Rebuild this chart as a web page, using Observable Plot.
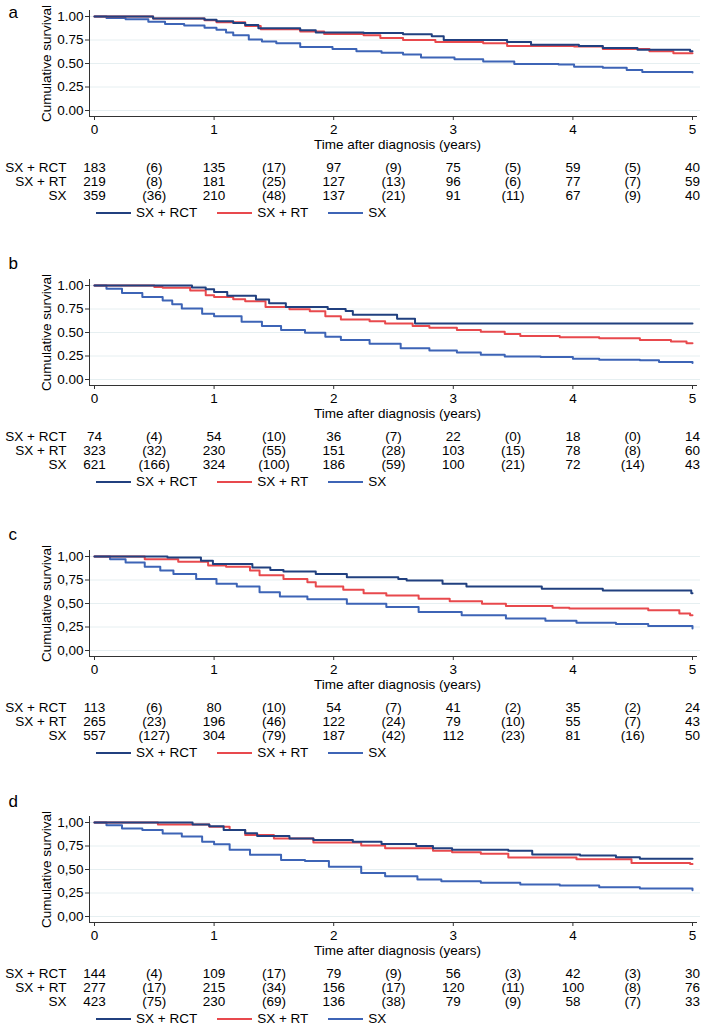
<!DOCTYPE html>
<html><head><meta charset="utf-8">
<script src="https://cdn.jsdelivr.net/npm/d3@7"></script>
<script src="https://cdn.jsdelivr.net/npm/@observablehq/plot@0.6"></script>
<style>
body{margin:0;background:#fff;}
#wrap{position:relative;width:708px;height:1036px;overflow:hidden;font-family:"Liberation Sans",Arial,sans-serif;color:#000;}
#wrap svg{position:absolute;left:0;}
.legend{position:absolute;left:96px;display:flex;align-items:center;height:18px;font-size:13.5px;line-height:18px;white-space:nowrap;}
.legend .sw{display:inline-block;width:35px;height:2px;margin-right:5px;}
.legend .item{display:flex;align-items:center;margin-right:20px;}
</style></head><body><div id="wrap"></div>
<script>
// ---- categories / labels ----
const groups = ["SX + RCT", "SX + RT", "SX"];
const colors = ["#21407f", "#e8494d", "#3d64b6"];
const panelLetters = ["a", "b", "c", "d"];
const yTickValues = [0, 0.25, 0.5, 0.75, 1];
const yTickLabelsDot = ["0.00", "0.25", "0.50", "0.75", "1.00"];
const yTickLabelsComma = ["0,00", "0,25", "0,50", "0,75", "1,00"];
const xTickValues = [0, 1, 2, 3, 4, 5];
const tableTimes = [0, 0.5, 1, 1.5, 2, 2.5, 3, 3.5, 4, 4.5, 5];
const yTitle = "Cumulative survival";
const xTitle = "Time after diagnosis (years)";

// ---- panel a curves ----
const aRCT_t = [0,0.49,0.92,1.02,1.16,1.26,1.37,1.72,1.85,2.25,2.58,2.82,2.92,3.45,3.65,4.05,4.25,4.54,4.98,5.0];
const aRCT_s = [1,0.98,0.965,0.95,0.93,0.91,0.875,0.855,0.83,0.825,0.81,0.79,0.75,0.73,0.70,0.685,0.665,0.645,0.63,0.63];
const aRT_t = [0,0.49,0.92,1.02,1.26,1.39,1.72,1.92,2.25,2.39,2.58,2.85,3.25,3.45,4.01,4.25,4.64,4.84,5.0];
const aRT_s = [1,0.98,0.96,0.94,0.90,0.865,0.84,0.815,0.80,0.77,0.75,0.73,0.715,0.685,0.68,0.655,0.63,0.61,0.61];
const aSX_t = [0,0.1,0.26,0.45,0.59,0.75,0.92,1.02,1.1,1.16,1.29,1.4,1.52,1.72,1.99,2.19,2.4,2.58,2.73,3.01,3.25,3.51,3.88,4.01,4.25,4.45,4.58,5.0];
const aSX_s = [1,0.985,0.97,0.945,0.92,0.905,0.88,0.86,0.83,0.80,0.755,0.735,0.715,0.675,0.655,0.63,0.615,0.595,0.565,0.545,0.52,0.495,0.49,0.465,0.455,0.43,0.41,0.405];
// ---- panel b curves ----
const bRCT_t = [0,0.815,0.93,1.0,1.11,1.35,1.46,1.6,1.95,2.1,2.16,2.53,2.68,5.0];
const bRCT_s = [1,0.98,0.96,0.93,0.89,0.85,0.81,0.77,0.75,0.73,0.69,0.645,0.595,0.595];
const bRT_t = [0,0.5,0.57,0.8,0.93,1.0,1.16,1.26,1.43,1.63,1.8,1.93,2.06,2.3,2.43,2.66,2.8,3.03,3.23,3.43,3.56,3.89,4.22,4.56,4.82,4.95,5.0];
const bRT_s = [1,0.985,0.975,0.947,0.895,0.877,0.853,0.832,0.772,0.747,0.726,0.674,0.639,0.621,0.596,0.568,0.551,0.526,0.509,0.484,0.463,0.449,0.439,0.421,0.404,0.386,0.386];
const bSX_t = [0,0.1,0.23,0.4,0.57,0.65,0.73,0.9,1.0,1.23,1.4,1.56,1.76,1.93,2.06,2.3,2.56,2.8,3.03,3.23,3.43,3.73,4.0,4.22,4.56,4.72,5.0];
const bSX_s = [1,0.965,0.92,0.877,0.84,0.80,0.755,0.70,0.674,0.614,0.568,0.526,0.498,0.456,0.421,0.379,0.333,0.309,0.288,0.263,0.246,0.239,0.221,0.211,0.204,0.186,0.175];
// ---- panel c curves ----
const cRCT_t = [0,0.61,0.89,0.99,1.32,1.47,1.58,1.85,2.11,2.54,2.61,2.91,3.11,3.74,4.25,4.99,5.0];
const cRCT_s = [1,0.99,0.955,0.92,0.884,0.856,0.84,0.814,0.779,0.76,0.744,0.709,0.68,0.656,0.639,0.61,0.61];
const cRT_t = [0,0.42,0.7,0.95,1.1,1.3,1.38,1.58,1.78,1.85,2.08,2.25,2.44,2.71,2.97,3.24,3.44,3.83,3.97,4.63,4.89,4.98,5.0];
const cRT_s = [1,0.97,0.944,0.905,0.89,0.85,0.80,0.76,0.726,0.68,0.646,0.61,0.586,0.55,0.523,0.498,0.474,0.456,0.446,0.428,0.393,0.375,0.375];
const cSX_t = [0,0.13,0.26,0.42,0.55,0.66,0.85,1.02,1.19,1.38,1.55,1.78,2.11,2.44,2.71,3.07,3.44,3.77,4.03,4.36,4.63,5.0];
const cSX_s = [1,0.97,0.937,0.89,0.85,0.814,0.76,0.709,0.68,0.62,0.575,0.544,0.498,0.463,0.41,0.375,0.34,0.316,0.295,0.281,0.26,0.235];
// ---- panel d curves ----
const dRCT_t = [0,0.82,0.96,1.08,1.26,1.36,1.63,1.83,2.16,2.4,2.69,2.83,2.99,3.46,3.66,4.06,4.36,4.56,5.0];
const dRCT_s = [1,0.98,0.96,0.92,0.885,0.856,0.83,0.814,0.796,0.77,0.75,0.727,0.71,0.70,0.66,0.65,0.63,0.614,0.614];
const dRT_t = [0,0.53,0.96,1.13,1.26,1.5,1.83,2.23,2.43,2.83,2.99,3.23,3.46,4.03,4.49,4.98,5.0];
const dRT_s = [1,0.979,0.954,0.92,0.867,0.83,0.786,0.754,0.726,0.70,0.684,0.667,0.628,0.61,0.568,0.558,0.558];
const dSX_t = [0,0.1,0.23,0.4,0.57,0.73,0.9,1.0,1.13,1.3,1.56,1.76,1.96,2.23,2.43,2.7,2.9,3.23,3.56,3.89,4.22,4.56,5.0];
const dSX_s = [1,0.97,0.937,0.92,0.884,0.85,0.796,0.768,0.709,0.656,0.60,0.59,0.53,0.463,0.428,0.393,0.375,0.358,0.34,0.33,0.312,0.298,0.28];

// ---- numbers at risk (years 0..5) and censored (in brackets, between years) ----
const aRCT_n = [183,135,97,75,59,40], aRCT_c = [6,17,9,5,5];
const aRT_n  = [219,181,127,96,77,59], aRT_c  = [8,25,13,6,7];
const aSX_n  = [359,210,137,91,67,40], aSX_c  = [36,48,21,11,9];
const bRCT_n = [74,54,36,22,18,14],   bRCT_c = [4,10,7,0,0];
const bRT_n  = [323,230,151,103,78,60], bRT_c = [32,55,28,15,8];
const bSX_n  = [621,324,186,100,72,43], bSX_c = [166,100,59,21,14];
const cRCT_n = [113,80,54,41,35,24],  cRCT_c = [6,10,7,2,2];
const cRT_n  = [265,196,122,79,55,43], cRT_c = [23,46,24,10,7];
const cSX_n  = [557,304,187,112,81,50], cSX_c = [127,79,42,23,16];
const dRCT_n = [144,109,79,56,42,30], dRCT_c = [4,17,9,3,3];
const dRT_n  = [277,215,156,120,100,76], dRT_c = [17,34,17,11,8];
const dSX_n  = [423,230,136,79,58,33], dSX_c = [75,69,38,9,7];

const panels = [
  {letter: panelLetters[0], ticks: yTickLabelsDot, curves: [[aRCT_t,aRCT_s],[aRT_t,aRT_s],[aSX_t,aSX_s]], n: [aRCT_n,aRT_n,aSX_n], c: [aRCT_c,aRT_c,aSX_c]},
  {letter: panelLetters[1], ticks: yTickLabelsDot, curves: [[bRCT_t,bRCT_s],[bRT_t,bRT_s],[bSX_t,bSX_s]], n: [bRCT_n,bRT_n,bSX_n], c: [bRCT_c,bRT_c,bSX_c]},
  {letter: panelLetters[2], ticks: yTickLabelsComma, curves: [[cRCT_t,cRCT_s],[cRT_t,cRT_s],[cSX_t,cSX_s]], n: [cRCT_n,cRT_n,cSX_n], c: [cRCT_c,cRT_c,cSX_c]},
  {letter: panelLetters[3], ticks: yTickLabelsComma, curves: [[dRCT_t,dRCT_s],[dRT_t,dRT_s],[dSX_t,dSX_s]], n: [dRCT_n,dRT_n,dSX_n], c: [dRCT_c,dRT_c,dSX_c]}
];

// ---- layout ----
const panelTop = [16, 285, 556, 822];      // page y of the 1.00 gridline
const letterDy = [-4, -22, -22, -21];
const MT = 30, PH = 94, SVGH = 222;
const rowDy = [57, 71, 85];
const legendDy = 213;
const FS = 13.5;
const font = "'Liberation Sans', Arial, sans-serif";

const wrap = document.getElementById("wrap");
const drawOrder = [2, 1, 0];

panels.forEach((p, pi) => {
  const lines = [];
  p.curves.forEach(([t, s], gi) => t.forEach((tt, k) => lines.push({group: groups[gi], t: tt, s: s[k]})));
  const table = [];
  groups.forEach((g, gi) => tableTimes.forEach((tt, k) => {
    const txt = k % 2 === 0 ? String(p.n[gi][k / 2]) : "(" + p.c[gi][(k - 1) / 2] + ")";
    table.push({group: g, gi, t: tt, text: txt});
  }));
  const chart = Plot.plot({
    width: 708, height: SVGH,
    marginLeft: 94, marginRight: 16, marginTop: MT, marginBottom: SVGH - MT - PH,
    style: {fontFamily: font, fontSize: FS + "px", color: "#000", background: "transparent", overflow: "visible"},
    x: {domain: [0, 5], axis: null},
    y: {domain: [0, 1], axis: null},
    color: {domain: groups, range: colors},
    marks: [
      Plot.ruleY(yTickValues, {stroke: "#e6eff1", strokeWidth: 1, insetLeft: -5, insetRight: -8}),
      Plot.ruleX([0], {dx: -5, insetTop: -6, insetBottom: -6, stroke: "#333"}),
      Plot.ruleY([0], {dy: 6, insetLeft: -5, insetRight: -5, stroke: "#333"}),
      Plot.axisY({ticks: yTickValues, tickFormat: d => p.ticks[yTickValues.indexOf(d)], tickSize: 4, tickPadding: 2, dx: -5, fontSize: FS, label: null, stroke: "#333"}),
      Plot.axisX({ticks: xTickValues, tickFormat: d => String(d), tickSize: 4, tickPadding: 4, dy: 6, fontSize: FS, label: null, stroke: "#333"}),
      ...drawOrder.map(gi => Plot.line(lines.filter(d => d.group === groups[gi]), {x: "t", y: "s", stroke: "group", strokeWidth: 2, curve: "step-after"})),
      Plot.text([yTitle], {frameAnchor: "left", dx: -48, rotate: -90, textAnchor: "middle", lineAnchor: "middle", fontSize: FS}),
      Plot.text([xTitle], {frameAnchor: "bottom", dx: 4, dy: 34, lineAnchor: "middle", textAnchor: "middle", fontSize: FS}),
      ...groups.map((g, gi) => Plot.text(table.filter(d => d.gi === gi), {x: "t", y: 0, text: "text", dy: rowDy[gi], fontSize: FS})),
      ...groups.map((g, gi) => Plot.text([g], {x: 0, y: 0, dx: -28, dy: rowDy[gi], textAnchor: "end", fontSize: FS})),
      Plot.text([p.letter], {frameAnchor: "top-left", dx: -86, dy: letterDy[pi], textAnchor: "start", lineAnchor: "middle", fontSize: 17})
    ]
  });
  chart.style.top = (panelTop[pi] - MT) + "px";
  wrap.appendChild(chart);

  const lg = document.createElement("div");
  lg.className = "legend";
  lg.style.top = (panelTop[pi] - 16 + legendDy - 9) + "px";
  groups.forEach((g, gi) => {
    const it = document.createElement("span");
    it.className = "item";
    it.innerHTML = `<span class="sw" style="background:${colors[gi]}"></span><span>${g}</span>`;
    lg.appendChild(it);
  });
  wrap.appendChild(lg);
});
</script></body></html>
